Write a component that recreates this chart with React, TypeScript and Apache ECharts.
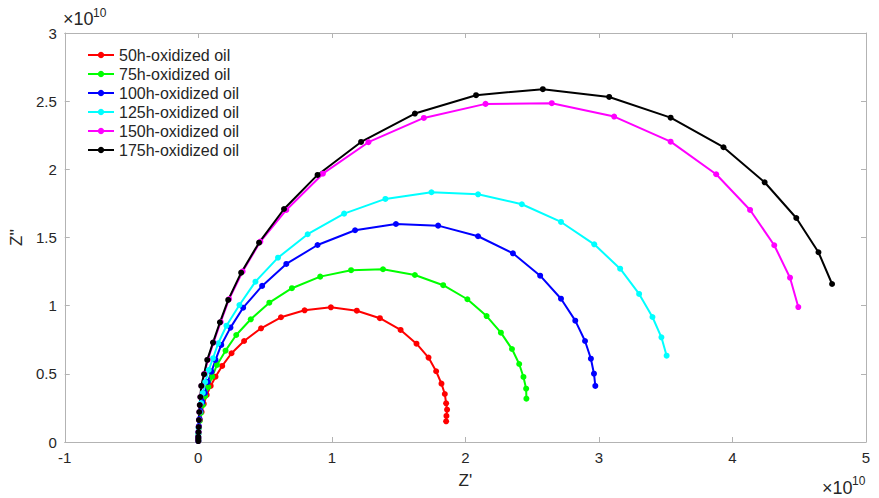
import React, { useEffect, useRef } from "react";
import * as echarts from "echarts";

// values in units of 1e10 (Z', Z'')
const names = [
  "50h-oxidized oil",
  "75h-oxidized oil",
  "100h-oxidized oil",
  "125h-oxidized oil",
  "150h-oxidized oil",
  "175h-oxidized oil",
];
const colors = ["#ff0000", "#00ff00", "#0000ff", "#00ffff", "#ff00ff", "#000000"];

const s50: number[][] = [
  [0, 0.007], [0, 0.029], [0.002, 0.066], [0.006, 0.110], [0.013, 0.161], [0.025, 0.220],
  [0.041, 0.279], [0.063, 0.345], [0.093, 0.411], [0.129, 0.479], [0.179, 0.558], [0.249, 0.651],
  [0.343, 0.741], [0.470, 0.834], [0.619, 0.915], [0.796, 0.966], [0.993, 0.988], [1.187, 0.963],
  [1.360, 0.908], [1.515, 0.822], [1.634, 0.721], [1.724, 0.619], [1.781, 0.519], [1.821, 0.428],
  [1.846, 0.352], [1.856, 0.284], [1.863, 0.237], [1.858, 0.191], [1.856, 0.152],
];
const s75: number[][] = [
  [0, 0.007], [0, 0.022], [0.001, 0.059], [0.005, 0.103], [0.010, 0.154], [0.019, 0.213],
  [0.034, 0.271], [0.052, 0.337], [0.075, 0.404], [0.104, 0.479], [0.140, 0.565], [0.204, 0.670],
  [0.284, 0.785], [0.393, 0.900], [0.532, 1.022], [0.701, 1.128], [0.913, 1.213], [1.144, 1.260],
  [1.383, 1.267], [1.622, 1.225], [1.834, 1.150], [2.015, 1.047], [2.159, 0.924], [2.266, 0.802],
  [2.349, 0.682], [2.403, 0.572], [2.435, 0.477], [2.455, 0.391], [2.457, 0.318],
];
const s100: number[][] = [
  [0, 0.007], [0, 0.037], [0.001, 0.073], [0.004, 0.117], [0.009, 0.169], [0.017, 0.227],
  [0.030, 0.293], [0.049, 0.360], [0.071, 0.440], [0.099, 0.516], [0.129, 0.602], [0.172, 0.712],
  [0.241, 0.839], [0.336, 0.985], [0.478, 1.145], [0.659, 1.306], [0.893, 1.445], [1.174, 1.553],
  [1.480, 1.599], [1.796, 1.587], [2.095, 1.509], [2.356, 1.384], [2.560, 1.220], [2.716, 1.051],
  [2.823, 0.890], [2.896, 0.741], [2.940, 0.611], [2.963, 0.501], [2.973, 0.411],
];
const s125: number[][] = [
  [0, 0.007], [0, 0.029], [0.001, 0.059], [0.002, 0.103], [0.006, 0.161], [0.012, 0.220],
  [0.021, 0.286], [0.034, 0.360], [0.052, 0.440], [0.078, 0.528], [0.110, 0.614], [0.149, 0.724],
  [0.211, 0.853], [0.308, 1.005], [0.428, 1.176], [0.597, 1.352], [0.819, 1.524], [1.092, 1.675],
  [1.401, 1.783], [1.746, 1.832], [2.095, 1.817], [2.423, 1.744], [2.716, 1.614], [2.965, 1.450],
  [3.159, 1.271], [3.301, 1.086], [3.401, 0.917], [3.468, 0.768], [3.507, 0.633],
];
const s150: number[][] = [
  [0, 0.007], [0, 0.022], [0, 0.037], [0.0015, 0.073], [0.003, 0.110], [0.005, 0.161],
  [0.008, 0.220], [0.012, 0.271], [0.016, 0.330], [0.024, 0.411], [0.045, 0.499], [0.071, 0.602],
  [0.114, 0.730], [0.168, 0.880], [0.231, 1.049], [0.332, 1.251], [0.465, 1.470], [0.659, 1.702],
  [0.933, 1.968], [1.274, 2.199], [1.689, 2.377], [2.151, 2.480], [2.647, 2.485], [3.114, 2.387],
  [3.537, 2.203], [3.878, 1.964], [4.132, 1.702], [4.313, 1.443], [4.431, 1.205], [4.493, 0.990],
];
const s175: number[][] = [
  [0, 0.007], [0, 0.022], [0, 0.037], [0.0015, 0.073], [0.003, 0.110], [0.005, 0.161],
  [0.007, 0.220], [0.011, 0.271], [0.015, 0.330], [0.022, 0.411], [0.043, 0.497], [0.067, 0.602],
  [0.110, 0.729], [0.162, 0.878], [0.224, 1.042], [0.321, 1.242], [0.455, 1.462], [0.642, 1.709],
  [0.893, 1.959], [1.219, 2.201], [1.622, 2.409], [2.080, 2.544], [2.580, 2.588], [3.077, 2.531],
  [3.537, 2.379], [3.933, 2.162], [4.241, 1.905], [4.478, 1.643], [4.644, 1.392], [4.746, 1.159],
];
const seriesData = [s50, s75, s100, s125, s150, s175];

const xTicks = { min: -1, max: 5, interval: 1 };
const yTicks = { min: 0, max: 3, interval: 0.5 };

const FONT = 'Arial, "Liberation Sans", Helvetica, sans-serif';
const AXIS_GRAY = "#b3b3b3";
const TEXT = "#262626";

function txt(text: string, x: number, y: number, size: number) {
  return {
    type: "text",
    x,
    y,
    style: {
      text,
      x: 0,
      y: 0,
      font: `${size}px Arial, "Liberation Sans", sans-serif`,
      fontSize: size,
      fontFamily: FONT,
      fill: TEXT,
      align: "left",
      verticalAlign: "middle",
    },
  };
}

export default function App() {
  const ref = useRef<HTMLDivElement>(null);
  useEffect(() => {
    if (!ref.current) return;
    const chart = echarts.init(ref.current, null, { renderer: "svg" });
    const axisCommon = {
      axisLine: { show: true, onZero: false, lineStyle: { color: AXIS_GRAY, width: 1 } },
      axisTick: { show: true, inside: true, length: 5, lineStyle: { color: AXIS_GRAY } },
      splitLine: { show: false },
    };
    chart.setOption({
      animation: false,
      backgroundColor: "#ffffff",
      grid: { left: 62, right: 13, top: 33, bottom: 56, containLabel: false },
      legend: {
        orient: "vertical",
        left: 87,
        top: 47,
        padding: 0,
        itemWidth: 26,
        itemHeight: 8,
        itemGap: 3,
        textStyle: { fontSize: 16, fontFamily: FONT, color: TEXT, lineHeight: 15.5 },
        data: names,
      },
      xAxis: [
        {
          type: "value",
          ...xTicks,
          ...axisCommon,
          position: "bottom",
          axisLabel: { fontSize: 15, fontFamily: FONT, color: TEXT, margin: 8 },
          name: "Z'",
          nameLocation: "middle",
          nameGap: 30,
          nameTextStyle: { fontSize: 17, fontFamily: FONT, color: TEXT },
        },
        {
          type: "value",
          ...xTicks,
          ...axisCommon,
          position: "top",
          axisLabel: { show: false },
        },
      ],
      yAxis: [
        {
          type: "value",
          ...yTicks,
          ...axisCommon,
          position: "left",
          axisLabel: { fontSize: 15, fontFamily: FONT, color: TEXT, margin: 8 },
          name: "Z''",
          nameLocation: "middle",
          nameGap: 33,
          nameTextStyle: { fontSize: 17, fontFamily: FONT, color: TEXT },
        },
        {
          type: "value",
          ...yTicks,
          ...axisCommon,
          position: "right",
          axisLabel: { show: false },
        },
      ],
      series: seriesData.map((d, i) => ({
        type: "line",
        name: names[i],
        data: d,
        xAxisIndex: 0,
        yAxisIndex: 0,
        symbol: "circle",
        symbolSize: 6,
        showSymbol: true,
        lineStyle: { color: colors[i], width: 2 },
        itemStyle: { color: colors[i] },
        emphasis: { disabled: true },
      })),
      graphic: [
        txt("×10", 63, 19, 18),
        txt("10", 93, 13, 12),
        txt("×10", 822, 488, 18),
        txt("10", 852, 481, 12),
      ],
    });
    return () => chart.dispose();
  }, []);
  return <div ref={ref} style={{ width: 879, height: 498, position: "absolute", left: 0, top: 0 }} />;
}
